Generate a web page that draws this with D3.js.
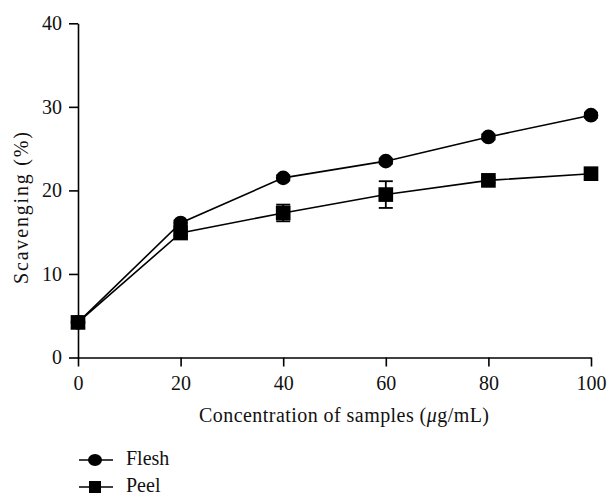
<!DOCTYPE html>
<html>
<head>
<meta charset="utf-8">
<script src="https://cdn.jsdelivr.net/npm/d3@7"></script>
<style>
  body { margin: 0; background: #fff; }
  text { font-family: "Liberation Serif", "DejaVu Serif", serif; fill: #111; }
</style>
</head>
<body>
<svg id="chart" width="608" height="497"></svg>
<script>
var concentrations = [0, 20, 40, 60, 80, 100]
var flesh = [4.2, 16.1, 21.5, 23.5, 26.4, 29.0]
var fleshErr = [0.3, 0.3, 0.3, 0.3, 0.3, 0.3]
var peel = [4.2, 14.9, 17.3, 19.5, 21.2, 22.0]
var peelErr = [0.3, 0.3, 1.0, 1.6, 0.3, 0.3]
var yTicks = [0, 10, 20, 30, 40]
var xTicks = [0, 20, 40, 60, 80, 100]

var svg = d3.select('#chart')

var x = d3.scaleLinear().domain([0, 100]).range([78, 591])
var y = d3.scaleLinear().domain([0, 40]).range([357.5, 23.3])

// axes
svg.append('g')
  .attr('transform', 'translate(0,357.5)')
  .call(d3.axisBottom(x).tickValues(xTicks).tickSize(9).tickPadding(9).tickSizeOuter(0))
  .call(g => g.selectAll('text').attr('font-size', 20))

svg.append('g')
  .attr('transform', 'translate(78,0)')
  .call(d3.axisLeft(y).tickValues(yTicks).tickSize(9).tickPadding(7).tickSizeOuter(0))
  .call(g => g.selectAll('text').attr('font-size', 20))

svg.selectAll('.domain, .tick line').attr('stroke', '#000').attr('stroke-width', 1.6)

// titles
svg.append('text')
  .attr('x', 344).attr('y', 422)
  .attr('text-anchor', 'middle').attr('font-size', 20)
  .attr('textLength', 290).attr('lengthAdjust', 'spacing')
  .html('Concentration of samples (<tspan font-style="italic">μ</tspan>g/mL)')

svg.append('text')
  .attr('transform', 'translate(28,208) rotate(-90)')
  .attr('text-anchor', 'middle').attr('font-size', 20)
  .attr('textLength', 152).attr('lengthAdjust', 'spacing')
  .text('Scavenging (%)')

var line = d3.line().x((d, i) => x(concentrations[i])).y(d => y(d))

function drawSeries(vals, errs, shape) {
  var g = svg.append('g')
  g.append('path').attr('d', line(vals))
    .attr('fill', 'none').attr('stroke', '#000').attr('stroke-width', 1.6)
  // error bars
  vals.forEach(function(v, i) {
    var cx = x(concentrations[i])
    var eb = g.append('g').attr('stroke', '#000').attr('stroke-width', 1.8)
    eb.append('line').attr('x1', cx).attr('x2', cx).attr('y1', y(v - errs[i])).attr('y2', y(v + errs[i]))
    eb.append('line').attr('x1', cx - 7).attr('x2', cx + 7).attr('y1', y(v - errs[i])).attr('y2', y(v - errs[i]))
    eb.append('line').attr('x1', cx - 7).attr('x2', cx + 7).attr('y1', y(v + errs[i])).attr('y2', y(v + errs[i]))
  })
  g.selectAll('.m').data(vals).enter()
    .append('path')
    .attr('transform', (d, i) => 'translate(' + x(concentrations[i]) + ',' + y(d) + ')')
    .attr('d', d3.symbol().type(shape).size(shape === d3.symbolCircle ? 170 : 215))
    .attr('fill', '#000')
}

drawSeries(flesh, fleshErr, d3.symbolCircle)
drawSeries(peel, peelErr, d3.symbolSquare)

// legend
var legend = [['Flesh', 'circle'], ['Peel', 'square']]
legend.forEach(function(l, i) {
  var ly = 460 + i * 27
  svg.append('line').attr('x1', 79).attr('x2', 113).attr('y1', ly).attr('y2', ly)
    .attr('stroke', '#000').attr('stroke-width', 1.6)
  if (l[1] === 'circle') {
    svg.append('ellipse').attr('cx', 95).attr('cy', ly).attr('rx', 7).attr('ry', 6).attr('fill', '#000')
  } else {
    svg.append('path').attr('transform', 'translate(95,' + ly + ')')
      .attr('d', d3.symbol().type(d3.symbolSquare).size(144))
      .attr('fill', '#000')
  }
  svg.append('text').attr('x', 126).attr('y', ly + 5).attr('font-size', 20).text(l[0])
})
</script>
</body>
</html>
